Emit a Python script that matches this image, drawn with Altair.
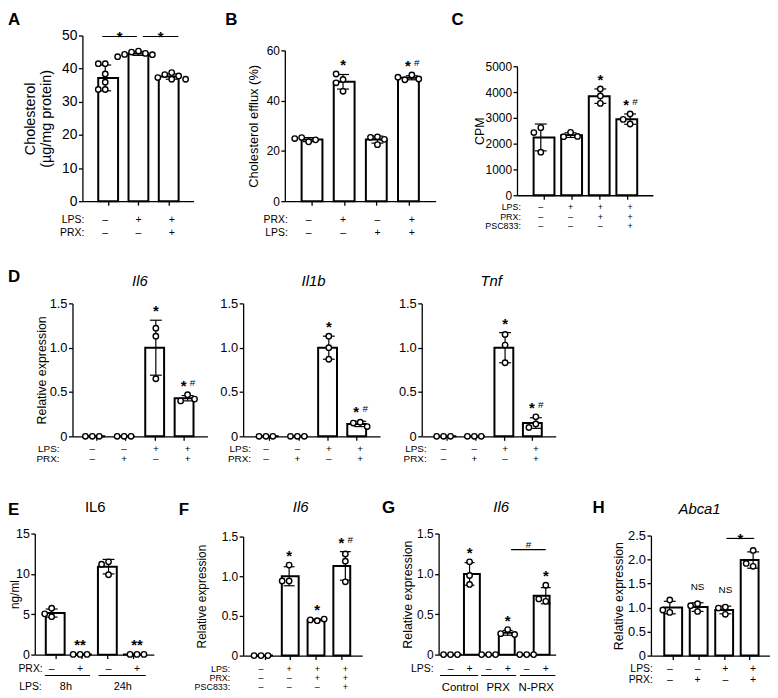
import altair as alt
import pandas as pd

# ---------------- values ----------------
A_means = [37.2, 44.6, 37.6]
A_sds = [3.9, 0.6, 0.8]
A_pts = [[41.5, 41.5, 38.4, 35.9, 33.7, 33.7],
         [45.3, 45.0, 44.6, 44.3, 44.2, 43.6],
         [38.8, 38.2, 37.8, 37.3, 36.8, 36.8]]
A_signs = [["–", "+", "+"], ["–", "–", "+"]]

B_means = [24.5, 47.5, 24.5, 49.1]
B_sds = [0.8, 2.9, 1.4, 0.8]
B_pts = [[23.6, 25.3, 24.4, 24.9], [48.4, 50.6, 43.7, 47.1],
         [25.6, 25.4, 22.5, 24.6], [50.2, 48.3, 48.6, 49.3]]
B_signs = [["–", "+", "–", "+"], ["–", "–", "+", "+"]]

C_means = [2240, 2330, 3840, 2950]
C_sds = [520, 90, 280, 200]
C_pts = [[2620, 2430, 1670], [2440, 2270, 2280], [4120, 3850, 3560], [3150, 2940, 2760]]
C_signs = [["–", "+", "+", "+"], ["–", "–", "+", "+"], ["–", "–", "–", "+"]]

D_signs = [["–", "–", "+", "+"], ["–", "+", "–", "+"]]
D_il6_means = [0, 0, 1.0, 0.43]
D_il6_sds = [0, 0, 0.31, 0.03]
D_il6_pts = [[0, 0, 0], [0, 0, 0], [1.22, 1.13, 0.65], [0.47, 0.40, 0.42]]
D_il1b_means = [0, 0, 1.0, 0.14]
D_il1b_sds = [0, 0, 0.13, 0.03]
D_il1b_pts = [[0, 0, 0], [0, 0, 0], [1.13, 1.0, 0.87], [0.16, 0.15, 0.11]]
D_tnf_means = [0, 0, 1.0, 0.15]
D_tnf_sds = [0, 0, 0.17, 0.06]
D_tnf_pts = [[0, 0, 0], [0, 0, 0], [1.15, 1.03, 0.83], [0.14, 0.22, 0.10]]

E_means = [5.15, 0.03, 10.9, 0.03]
E_sds = [0.5, 0.02, 0.9, 0.02]
E_pts = [[5.75, 4.7, 5.05], [0.03, 0.03, 0.03], [11.5, 11.2, 9.9], [0.03, 0.03, 0.03]]
E_prx = ["–", "+", "–", "+"]
E_lps = ["8h", "24h"]

F_means = [0, 1.0, 0.45, 1.13]
F_sds = [0, 0.12, 0.01, 0.18]
F_pts = [[0, 0, 0], [0.94, 1.14, 0.94], [0.44, 0.45, 0.46], [1.28, 1.19, 0.93]]
F_signs = [["–", "+", "+", "+"], ["–", "–", "+", "+"], ["–", "–", "–", "+"]]

G_means = [0, 1.0, 0, 0.27, 0, 0.73]
G_sds = [0, 0.14, 0, 0.03, 0, 0.10]
G_pts = [[0, 0, 0], [1.15, 0.98, 0.87], [0, 0, 0], [0.31, 0.26, 0.25], [0, 0, 0], [0.86, 0.66, 0.69]]
G_lps = ["–", "+", "–", "+", "–", "+"]
G_groups = ["Control", "PRX", "N-PRX"]

H_means = [1.0, 1.01, 0.95, 1.99]
H_sds = [0.13, 0.09, 0.08, 0.17]
H_pts = [[1.16, 0.90, 0.95], [1.08, 0.92, 1.04], [1.01, 0.86, 0.99], [2.19, 1.86, 1.92]]
H_signs = [["–", "–", "+", "+"], ["–", "+", "–", "+"]]

# ---------------- layout ----------------
OX, OY = 8, 8
W, H = 768, 688
FONT = "Liberation Sans"
INT = "format(datum.value, 'd')"
DEC = "datum.value == 0 ? '0' : format(datum.value, '.1f')"

layers = []
pix = []


def add_text(x, y, t, style, size):
    pix.append({"px": x - OX, "py": y - OY, "t": t, "style": style, "size": size})


def swarm(vals, cat, ppu, sp, d=7.0):
    cands = [0.0]
    for i in range(1, 8):
        cands += [-i * d, i * d]
    placed, out = [], []
    for v in vals:
        py = v * ppu
        cx = cands[-1]
        for c in cands:
            if all((c - qx) ** 2 + (py - qy) ** 2 >= (0.95 * d) ** 2 for qx, qy in placed):
                cx = c
                break
        placed.append((cx, py))
        out.append(cat + cx / sp)
    return out


STAR_STYLES = {
    "star": dict(fontSize=15, fontWeight="bold", dx=0, dy=-9),
    "starl": dict(fontSize=15, fontWeight="bold", dx=-4, dy=-9),
    "hash": dict(fontSize=10, fontWeight="normal", dx=5, dy=-12),
    "ns": dict(fontSize=10, fontWeight="normal", dx=0, dy=-16),
}
LINE_STYLES = {
    "*": dict(fontSize=15, fontWeight="bold", dy=1),
    "#": dict(fontSize=10, fontWeight="normal", dy=-5),
}


def panel(means, sds, pts, L):
    n = len(means)
    sp = (L["cn"] - L["c1"]) / (n - 1)
    lo = 1 - (L["c1"] - L["xl"]) / sp
    hi = n + (L["xr"] - L["cn"]) / sp
    xs = alt.Scale(domain=[lo, hi], range=[L["xl"] - OX, L["xr"] - OX], nice=False, zero=False)
    ys = alt.Scale(domain=[0, L["ymax"]], range=[L["yb"] - OY, L["yt"] - OY], nice=False, zero=False)
    ppu = (L["yb"] - L["yt"]) / L["ymax"]
    cats = list(range(1, n + 1))
    rfs = L.get("rfs", 10.5)

    def X(f):
        return alt.X(f, scale=xs, axis=None, title=None)

    def Y(f):
        return alt.Y(f, scale=ys, axis=None, title=None)

    bdf = pd.DataFrame({"c": cats, "m": means, "s": sds})
    bdf["lo"] = bdf["m"] - bdf["s"]
    bdf["hi"] = bdf["m"] + bdf["s"]

    xaxis = alt.Axis(orient="bottom", offset=(L["yb"] - OY) - H, values=cats, labels=False,
                     ticks=L.get("xticks", True), grid=False)
    ykw = dict(orient="left", offset=-(L["xl"] - OX), values=L["yticks"], labelExpr=L["lexpr"],
               grid=False, labelFontSize=L["fs"])
    ytitle = L.get("ytitle")
    if ytitle:
        ykw.update(titleFontSize=L["tfs"], titleX=L["tx"], titleAngle=270, titleBaseline="bottom",
                   titleAlign="center", titleLineHeight=16)
        yenc = alt.Y("m:Q", scale=ys, axis=alt.Axis(**ykw), title=ytitle)
    else:
        yenc = alt.Y("m:Q", scale=ys, axis=alt.Axis(**ykw), title=None)
    layers.append(alt.Chart(bdf).mark_bar(size=L["bw"], orient="vertical", fill="white", stroke="black",
                                          strokeWidth=2).encode(
        x=alt.X("c:Q", scale=xs, axis=xaxis, title=None), y=yenc))

    edf = bdf[bdf["s"] > 0]
    layers.append(alt.Chart(edf).mark_rule(color="black", strokeWidth=1.2).encode(
        x=X("c:Q"), y=Y("lo:Q"), y2="hi:Q"))
    cdf = pd.concat([pd.DataFrame({"c": edf["c"], "v": edf["lo"]}),
                     pd.DataFrame({"c": edf["c"], "v": edf["hi"]})])
    layers.append(alt.Chart(cdf).mark_tick(orient="horizontal", size=L["cap"], thickness=1.2,
                                           color="black", opacity=1).encode(x=X("c:Q"), y=Y("v:Q")))

    prow = []
    for i, vals in enumerate(pts):
        for xv, v in zip(swarm(vals, i + 1, ppu, sp), vals):
            prow.append({"x": xv, "v": v})
    layers.append(alt.Chart(pd.DataFrame(prow)).mark_point(
        shape="circle", filled=True, fill="white", stroke="black", strokeWidth=1.4, size=30, opacity=1
    ).encode(x=X("x:Q"), y=Y("v:Q")))

    ann = []
    for c, t in L.get("stars", {}).items():
        top = max([means[c - 1] + sds[c - 1]] + list(pts[c - 1]))
        if t == "*#":
            ann += [(c, top, "*", "starl"), (c, top, "#", "hash")]
        elif t == "NS":
            ann.append((c, top, "NS", "ns"))
        else:
            ann.append((c, top, t, "star"))
    if ann:
        adf = pd.DataFrame(ann, columns=["c", "top", "t", "k"])
        for k, st in STAR_STYLES.items():
            sub = adf[adf["k"] == k]
            if len(sub):
                layers.append(alt.Chart(sub).mark_text(font=FONT, color="black", baseline="middle", **st).encode(
                    x=X("c:Q"), y=Y("top:Q"), text="t:N"))

    if L.get("sig"):
        sdf = pd.DataFrame(L["sig"], columns=["a", "b", "y", "t"])
        sdf["mid"] = (sdf["a"] + sdf["b"]) / 2
        layers.append(alt.Chart(sdf).mark_rule(color="black", strokeWidth=1.2).encode(
            x=X("a:Q"), x2="b:Q", y=Y("y:Q")))
        for t, st in LINE_STYLES.items():
            sub = sdf[sdf["t"] == t]
            if len(sub):
                layers.append(alt.Chart(sub).mark_text(font=FONT, color="black", baseline="middle", **st).encode(
                    x=X("mid:Q"), y=Y("y:Q"), text="t:N"))

    if L.get("under"):
        udf = pd.DataFrame(L["under"], columns=["a", "b", "py"])
        udf["py"] = udf["py"] - OY
        layers.append(alt.Chart(udf).mark_rule(color="black", strokeWidth=1.1).encode(
            x=X("a:Q"), x2="b:Q", y=alt.Y("py:Q", scale=None, axis=None)))

    srows = []
    for name, ypx, signs in L["rows"]:
        add_text(L["rowx"], ypx, name, "row", rfs)
        for i, s in enumerate(signs):
            srows.append({"c": i + 1, "py": ypx - OY, "t": s})
    layers.append(alt.Chart(pd.DataFrame(srows)).mark_text(font=FONT, fontSize=rfs, baseline="middle",
                                                           color="black").encode(
        x=X("c:Q"), y=alt.Y("py:Q", scale=None, axis=None), text="t:N"))
    if L.get("grp"):
        gdf = pd.DataFrame([{"c": xc, "py": ypx - OY, "t": t} for xc, ypx, t in L["grp"]])
        layers.append(alt.Chart(gdf).mark_text(font=FONT, fontSize=L.get("gfs", 11), baseline="middle",
                                               color="black").encode(
            x=X("c:Q"), y=alt.Y("py:Q", scale=None, axis=None), text="t:N"))


# ---- row 1 ----
panel(A_means, A_sds, A_pts, dict(
    xl=83, xr=195, c1=106, cn=173, yb=200, yt=33, ymax=50, yticks=[0, 10, 20, 30, 40, 50], lexpr=INT,
    ytitle=["Cholesterol", "(µg/mg protein)"], fs=14, tfs=14.5, tx=-45, bw=20, cap=12, rowx=85,
    rows=[("LPS:", 219, A_signs[0]), ("PRX:", 232, A_signs[1])],
    sig=[(0.91, 1.95, 49.7, "*"), (2.13, 3.2, 49.7, "*")]))
panel(B_means, B_sds, B_pts, dict(
    xl=287, xr=439, c1=311, cn=415, yb=200, yt=48, ymax=60, yticks=[0, 20, 40, 60], lexpr=INT,
    ytitle="Cholesterol efflux (%)", fs=12, tfs=13, tx=-25, bw=21, cap=12, rowx=290,
    rows=[("PRX:", 219, B_signs[0]), ("LPS:", 232, B_signs[1])],
    stars={2: "*", 4: "*#"}))
panel(C_means, C_sds, C_pts, dict(
    xl=521, xr=658, c1=545, cn=635, yb=194, yt=64, ymax=5000, yticks=[0, 1000, 2000, 3000, 4000, 5000],
    lexpr=INT, ytitle="CPM", fs=12, tfs=12.5, tx=-31, bw=21, cap=12, rowx=525, rfs=9,
    rows=[("LPS:", 206, C_signs[0]), ("PRX:", 215.5, C_signs[1]), ("PSC833:", 225, C_signs[2])],
    stars={3: "*", 4: "*#"}))
add_text(8, 22, "A", "letter", 17)
add_text(227, 22, "B", "letter", 17)
add_text(455, 22, "C", "letter", 17)

# ---- row 2 ----
D_common = dict(yb=437, yt=303, ymax=1.5, yticks=[0, 0.5, 1.0, 1.5], lexpr=DEC, fs=13, bw=19, cap=12,
                stars={3: "*", 4: "*#"}, rfs=10)
panel(D_il6_means, D_il6_sds, D_il6_pts, dict(
    D_common, xl=73, xr=209, c1=93, cn=189, ytitle="Relative expression", tfs=12.5, tx=-24, rowx=60,
    rows=[("LPS:", 450, D_signs[0]), ("PRX:", 460, D_signs[1])]))
panel(D_il1b_means, D_il1b_sds, D_il1b_pts, dict(
    D_common, xl=245, xr=383, c1=268, cn=363, rowx=253,
    rows=[("LPS:", 450, D_signs[0]), ("PRX:", 460, D_signs[1])]))
panel(D_tnf_means, D_tnf_sds, D_tnf_pts, dict(
    D_common, xl=425, xr=560, c1=447, cn=540, rowx=430,
    rows=[("LPS:", 450, D_signs[0]), ("PRX:", 460, D_signs[1])]))
add_text(8, 281, "D", "letter", 17)
add_text(141, 285, "Il6", "ititle", 15)
add_text(316, 285, "Il1b", "ititle", 15)
add_text(495, 285, "Tnf", "ititle", 15)

# ---- row 3 ----
panel(E_means, E_sds, E_pts, dict(
    xl=35, xr=155, c1=52, cn=138, yb=657, yt=535, ymax=15, yticks=[0, 5, 10, 15], lexpr=INT,
    ytitle="ng/ml", fs=12.5, tfs=12, tx=-13, bw=19, cap=12, rowx=43,
    rows=[("PRX:", 672, E_prx)],
    under=[(0.76, 2.35, 678), (2.65, 4.31, 678)],
    grp=[(1.5, 690, E_lps[0]), (3.5, 690, E_lps[1])], gfs=11,
    stars={2: "**", 4: "**"}))
add_text(42, 690, "LPS:", "row", 10.5)
panel(F_means, F_sds, F_pts, dict(
    xl=245, xr=365, c1=263, cn=348, yb=658, yt=538, ymax=1.5, yticks=[0, 0.5, 1.0, 1.5], lexpr=DEC,
    ytitle="Relative expression", fs=12, tfs=12, tx=-35, bw=17, cap=11, rowx=232, rfs=9,
    rows=[("LPS:", 672, F_signs[0]), ("PRX:", 681, F_signs[1]), ("PSC833:", 690, F_signs[2])],
    stars={2: "*", 3: "*", 4: "*#"}))
panel(G_means, G_sds, G_pts, dict(
    xl=442, xr=560, c1=454, cn=550, yb=657, yt=535, ymax=1.5, yticks=[0, 0.5, 1.0, 1.5], lexpr=DEC,
    ytitle="Relative expression", fs=12, tfs=12.5, tx=-24, bw=16, cap=10, rowx=437, xticks=False,
    rows=[("LPS:", 672, G_lps)],
    under=[(0.45, 2.45, 678), (2.6, 4.45, 678), (4.65, 6.5, 678)],
    grp=[(1.5, 691, G_groups[0]), (3.5, 691, G_groups[1]), (5.5, 691, G_groups[2])], gfs=11.5,
    stars={2: "*", 4: "*", 6: "*"},
    sig=[(4.18, 6.0, 1.30, "#")]))
panel(H_means, H_sds, H_pts, dict(
    xl=656, xr=777, c1=675, cn=759, yb=658, yt=537, ymax=2.5, yticks=[0, 0.5, 1.0, 1.5, 2.0, 2.5],
    lexpr=DEC, ytitle="Relative expression", fs=13, tfs=12.5, tx=-26, bw=18, cap=12, rowx=658,
    rows=[("LPS:", 672, H_signs[0]), ("PRX:", 683, H_signs[1])],
    stars={2: "NS", 3: "NS"},
    sig=[(3.04, 4.04, 2.44, "*")]))
add_text(8, 516, "E", "letter", 17)
add_text(96, 513, "IL6", "title", 15)
add_text(180, 516, "F", "letter", 17)
add_text(303, 513, "Il6", "ititle", 15)
add_text(385, 514, "G", "letter", 17)
add_text(505, 513, "Il6", "ititle", 15)
add_text(597, 514, "H", "letter", 17)
add_text(705, 515, "Abca1", "ititle", 15)

PIX_STYLES = {
    "letter": dict(fontWeight="bold", align="left", baseline="alphabetic"),
    "ititle": dict(fontStyle="italic", align="center", baseline="alphabetic"),
    "title": dict(align="center", baseline="alphabetic"),
    "row": dict(align="right", baseline="middle"),
}
pdf = pd.DataFrame(pix)
for (k, size), sub in pdf.groupby(["style", "size"]):
    layers.append(alt.Chart(sub).mark_text(font=FONT, color="black", fontSize=float(size),
                                           **PIX_STYLES[k]).encode(
        x=alt.X("px:Q", scale=None, axis=None), y=alt.Y("py:Q", scale=None, axis=None), text="t:N"))

chart = alt.layer(*layers).resolve_scale(x="independent", y="independent").properties(
    width=W, height=H, autosize=alt.AutoSizeParams(type="none"), padding=0
).configure_axis(
    domainColor="black", domainWidth=1.3, tickColor="black", tickWidth=1.3, tickSize=4,
    labelColor="black", labelFont=FONT, labelFontSize=12.5, labelPadding=1.5,
    titleFont=FONT, titleFontSize=12.5, titleFontWeight="normal", titleColor="black", grid=False
).configure_view(stroke="transparent")

chart.save("out.html", embed_options={"renderer": "svg", "actions": False})
